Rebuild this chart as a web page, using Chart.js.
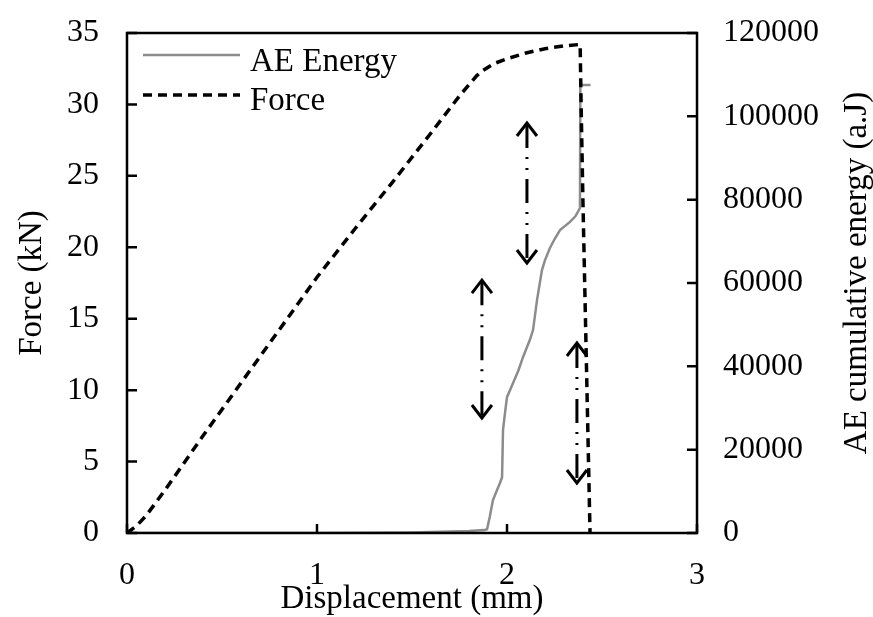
<!DOCTYPE html>
<html>
<head>
<meta charset="utf-8">
<script src="https://cdn.jsdelivr.net/npm/chart.js@4/dist/chart.umd.min.js"></script>
<style>
  body { margin: 0; background: #fff; }
  #wrap { width: 873px; height: 617px; }
</style>
</head>
<body>
<div id="wrap"><canvas id="aeChart" width="873" height="617"></canvas></div>
<script>
// force curve (displacement mm, force kN)
const forceDisp = [0, 0.05, 0.1, 0.2, 0.4, 0.6, 0.8, 1.0, 1.2, 1.4, 1.6, 1.75, 1.84, 1.87, 1.93, 2.0, 2.1, 2.2, 2.3, 2.385, 2.39, 2.40, 2.437];
const forceKN   = [0, 0.5, 1.2, 3.0, 6.8, 10.5, 14.2, 17.9, 21.3, 24.6, 28.0, 30.6, 32.0, 32.35, 32.85, 33.2, 33.6, 33.9, 34.1, 34.2, 30.0, 23.0, 0];

// AE cumulative energy (displacement mm, a.J)
const aeDisp   = [0, 1.0, 1.5, 1.8, 1.88, 1.895, 1.91, 1.926, 1.945, 1.963, 1.974, 1.979, 1.99, 2.0, 2.032, 2.06, 2.084, 2.12, 2.137, 2.158, 2.184, 2.2, 2.226, 2.25, 2.279, 2.33, 2.36, 2.384, 2.386, 2.44];
const aeEnergy = [0, 0, 150, 500, 700, 900, 4000, 7900, 10000, 12000, 13400, 24700, 29000, 32600, 36000, 39000, 42200, 46300, 48700, 55900, 63100, 65500, 68400, 70500, 72700, 74600, 76000, 78000, 107500, 107500];

const xTicks = [0, 1, 2, 3];
const forceTicks = [0, 5, 10, 15, 20, 25, 30, 35];
const aeTicks = [0, 20000, 40000, 60000, 80000, 100000, 120000];

// dash-dot double arrows: x, top, bottom (in mm / kN)
const arrowX      = [1.868, 2.105, 2.368];
const arrowTop    = [17.7, 28.7, 13.3];
const arrowBottom = [8.05, 18.9, 3.5];

const serif = "'Liberation Serif', 'DejaVu Serif', serif";
Chart.defaults.color = '#000';
Chart.defaults.font.family = serif;

function toPoints(xs, ys) {
    return xs.map((x, i) => ({ x: x, y: ys[i] }));
}

// keep the plot box fixed, labels may hang over the edges
function pinY(width) {
    return s => { s.width = width; s.paddingTop = 0; s.paddingBottom = 0; };
}

const framePlugin = {
    id: 'frame',
    afterDatasetsDraw(chart) {
        const ctx = chart.ctx;
        const a = chart.chartArea;
        const sx = chart.scales.x, sy = chart.scales.y, sy1 = chart.scales.y1;
        ctx.save();

        // arrows
        ctx.strokeStyle = '#000';
        ctx.lineWidth = 3;
        arrowX.forEach((v, i) => {
            const px = sx.getPixelForValue(v);
            const top = sy.getPixelForValue(arrowTop[i]);
            const bot = sy.getPixelForValue(arrowBottom[i]);
            ctx.setLineDash([24, 9, 2, 9, 2, 9]);
            ctx.beginPath();
            ctx.moveTo(px, top + 1);
            ctx.lineTo(px, bot - 1);
            ctx.stroke();
            ctx.setLineDash([]);
            ctx.beginPath();
            ctx.moveTo(px - 10, top + 13);
            ctx.lineTo(px, top);
            ctx.lineTo(px + 10, top + 13);
            ctx.moveTo(px - 10, bot - 13);
            ctx.lineTo(px, bot);
            ctx.lineTo(px + 10, bot - 13);
            ctx.stroke();
        });

        // frame
        ctx.setLineDash([]);
        ctx.lineWidth = 2.5;
        ctx.strokeRect(a.left, a.top, a.right - a.left, a.bottom - a.top);

        // inward tick marks
        ctx.beginPath();
        forceTicks.forEach(v => {
            const py = sy.getPixelForValue(v);
            ctx.moveTo(a.left, py); ctx.lineTo(a.left + 10, py);
        });
        aeTicks.forEach(v => {
            const py = sy1.getPixelForValue(v);
            ctx.moveTo(a.right, py); ctx.lineTo(a.right - 10, py);
        });
        xTicks.forEach(v => {
            const px = sx.getPixelForValue(v);
            ctx.moveTo(px, a.bottom); ctx.lineTo(px, a.bottom - 9);
        });
        ctx.stroke();

        // legend inside plot
        const ds = chart.data.datasets;
        const rows = [{ d: ds[0], y: a.top + 22, ty: a.top + 29 }, { d: ds[1], y: a.top + 62, ty: a.top + 68 }];
        rows.forEach(r => {
            ctx.strokeStyle = r.d.borderColor;
            ctx.lineWidth = r.d.borderWidth;
            ctx.setLineDash(r.d.borderDash || []);
            ctx.beginPath();
            ctx.moveTo(a.left + 16, r.y);
            ctx.lineTo(a.left + 113, r.y);
            ctx.stroke();
            ctx.setLineDash([]);
            ctx.fillStyle = '#000';
            ctx.font = '33px ' + serif;
            ctx.textAlign = 'left';
            ctx.textBaseline = 'middle';
            ctx.fillText(r.d.label, a.left + 123, r.ty);
        });

        // right axis title, reads bottom to top
        ctx.translate(857, (a.top + a.bottom) / 2 - 10);
        ctx.rotate(-Math.PI / 2);
        ctx.textAlign = 'center';
        ctx.textBaseline = 'middle';
        ctx.font = '33px ' + serif;
        ctx.fillText('AE cumulative energy (a.J)', 0, 0);
        ctx.restore();
    }
};

const ctx = document.getElementById('aeChart').getContext('2d');
new Chart(ctx, {
    type: 'line',
    data: {
        datasets: [{
            label: 'AE Energy',
            data: toPoints(aeDisp, aeEnergy),
            yAxisID: 'y1',
            borderColor: '#8c8c8c',
            borderWidth: 2.5,
            pointRadius: 0,
            tension: 0,
            order: 2
        }, {
            label: 'Force',
            data: toPoints(forceDisp, forceKN),
            yAxisID: 'y',
            borderColor: '#000',
            borderWidth: 3.5,
            borderDash: [9, 6],
            pointRadius: 0,
            tension: 0,
            order: 1
        }]
    },
    options: {
        responsive: false,
        animation: false,
        layout: { padding: { top: 33, left: 0, right: 0, bottom: 0 } },
        plugins: {
            legend: { display: false },
            tooltip: { enabled: false }
        },
        scales: {
            x: {
                type: 'linear',
                min: 0, max: 3,
                afterBuildTicks: s => { s.ticks = xTicks.map(v => ({ value: v })); },
                afterFit: s => { s.height = 84; s.paddingLeft = 0; s.paddingRight = 0; },
                grid: { display: false },
                border: { display: false },
                ticks: { padding: 15, font: { size: 32 }, maxRotation: 0 },
                title: { display: true, text: 'Displacement (mm)', font: { size: 33, lineHeight: 1.05 }, padding: 0 }
            },
            y: {
                position: 'left',
                min: 0, max: 35,
                afterBuildTicks: s => { s.ticks = forceTicks.map(v => ({ value: v })); },
                afterFit: pinY(127),
                grid: { display: false },
                border: { display: false },
                ticks: { padding: 20, font: { size: 32 } },
                title: { display: true, text: 'Force (kN)', font: { size: 33 }, padding: { top: 13, bottom: 0 } }
            },
            y1: {
                position: 'right',
                min: 0, max: 120000,
                afterBuildTicks: s => { s.ticks = aeTicks.map(v => ({ value: v })); },
                afterFit: pinY(176),
                grid: { display: false },
                border: { display: false },
                ticks: { padding: 18, font: { size: 32 }, callback: v => String(v) }
            }
        }
    },
    plugins: [framePlugin]
});
</script>
</body>
</html>
